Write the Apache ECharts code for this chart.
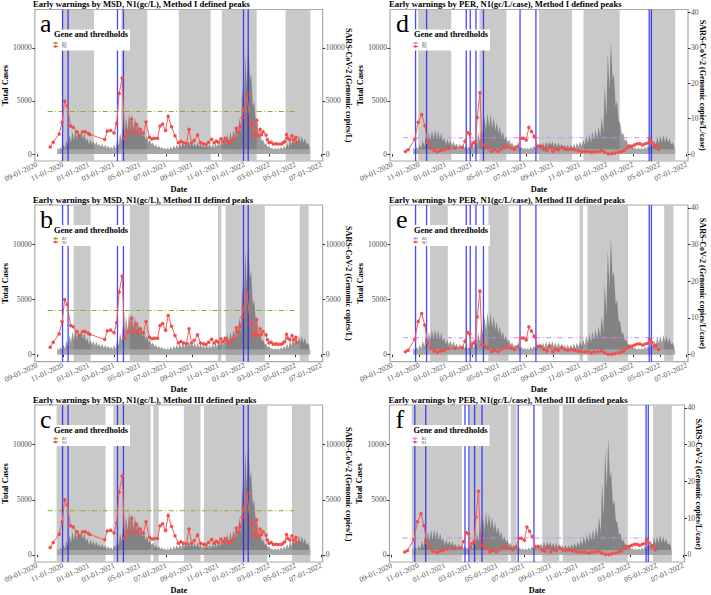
<!DOCTYPE html>
<html><head><meta charset="utf-8">
<script src="https://cdn.jsdelivr.net/npm/echarts@6/dist/echarts.min.js"></script>
<style>html,body{margin:0;padding:0;background:#fff}#c{width:711px;height:595px}</style>
</head><body><div id="c"></div>
<script>
// ---------------- DATA ----------------
const tickDates = ['2020-09-01','2020-11-01','2021-01-01','2021-03-01','2021-05-01','2021-07-01','2021-09-01','2021-11-01','2022-01-01','2022-03-01','2022-05-01','2022-07-01'];
const leftTicks = [0, 5000, 10000];
const msdTicks = [0, 5000, 10000];
const perTicks = [0, 10, 20, 30, 40];

// daily total cases, read as weekly highs (weekday) and lows (weekend), weeks starting 2020-10-19
const caseWeekStart = '2020-10-19';
const caseWeeklyHigh = [600,700,900,1300,1800,2100,2300,2300,2200,2000,1500,1400,1300,1200,1000,1000,900,800,700,900,1300,2000,2800,3500,3900,3800,3500,3000,2600,2100,1700,1400,1100,900,800,700,600,600,700,800,900,1000,1100,1200,1200,1200,1100,1100,1000,900,900,900,1000,1100,1200,1400,1700,1900,2100,2300,2600,3500,6500,9500,10700,7500,5000,3000,2000,1400,1000,800,600,600,600,700,800,1000,1300,1600,1700,1800,1700,1500,1100];
const caseWeeklyLow  = [350,400,500,700,1100,1300,1400,1500,1400,1200,900,900,800,750,650,600,550,500,450,500,800,1200,1700,2200,2500,2400,2200,1900,1600,1300,1100,900,700,550,500,450,400,400,450,500,550,600,650,700,750,700,650,650,600,550,550,550,600,650,750,850,1000,1100,1300,1400,1600,2000,3500,6000,7000,4500,3000,1800,1200,900,650,500,400,400,400,450,500,600,800,1000,1050,1100,1050,900,700];
const caseBandSpan = ['2020-10-19', '2022-06-05'];
const caseBandLevel = 450;

// N1 wastewater, MSD (gc/L)
const msdN1 = [['2020-10-02',670],['2020-10-09',1120],['2020-10-23',1880],['2020-10-30',3000],['2020-11-05',5000],['2020-11-11',4530],['2020-11-19',2640],['2020-11-25',2520],['2020-12-03',2100],['2020-12-09',1730],['2020-12-17',2100],['2020-12-23',2100],['2020-12-30',1950],['2021-01-03',1850],['2021-02-07',1370],['2021-02-13',2160],['2021-02-21',2220],['2021-03-01',1980],['2021-03-07',2890],['2021-03-13',5690],['2021-03-20',7150],['2021-03-26',1490],['2021-04-03',2100],['2021-04-11',3310],['2021-04-15',1980],['2021-04-22',2800],['2021-04-26',1980],['2021-05-02',2340],['2021-05-09',1980],['2021-05-15',3010],['2021-05-23',1580],['2021-05-29',1430],['2021-06-04',1490],['2021-06-11',1490],['2021-06-17',2640],['2021-06-23',2830],['2021-06-30',2220],['2021-07-06',3560],['2021-07-14',2580],['2021-07-22',1730],['2021-07-30',1060],['2021-08-05',1180],['2021-08-11',1060],['2021-08-18',1000],['2021-08-24',2340],['2021-08-30',1060],['2021-09-05',1270],['2021-09-13',1790],['2021-09-20',1060],['2021-09-27',970],['2021-10-03',910],['2021-10-09',1120],['2021-10-16',1400],['2021-10-22',1060],['2021-10-27',1240],['2021-11-01',1120],['2021-11-07',1430],['2021-11-12',1180],['2021-11-17',1490],['2021-11-21',1270],['2021-11-26',1060],['2021-12-01',1240],['2021-12-07',1430],['2021-12-13',2430],['2021-12-18',2040],['2021-12-22',2580],['2021-12-27',3400],['2021-12-30',4170],['2022-01-07',5620],['2022-01-15',2850],['2022-01-19',2830],['2022-01-22',1730],['2022-01-26',1920],['2022-01-30',3190],['2022-02-02',1730],['2022-02-07',2340],['2022-02-10',1820],['2022-02-14',2100],['2022-02-21',1790],['2022-02-24',1340],['2022-02-28',1060],['2022-03-05',1120],['2022-03-10',940],['2022-03-16',970],['2022-03-22',940],['2022-03-29',940],['2022-04-02',1060],['2022-04-06',1180],['2022-04-10',1850],['2022-04-13',1490],['2022-04-18',1340],['2022-04-23',1730],['2022-04-27',1340],['2022-05-02',1580],['2022-05-04',1120]];

// N1 wastewater per case, PER (gc/L/case)
const perN1 = [['2020-10-01',0.75],['2020-10-07',1.2],['2020-10-22',4.2],['2020-10-30',9.0],['2020-11-07',11.2],['2020-11-14',8.0],['2020-11-20',3.3],['2020-11-28',1.7],['2020-12-05',1.0],['2020-12-13',0.66],['2020-12-20',1.0],['2020-12-28',1.2],['2021-01-06',1.6],['2021-01-21',1.7],['2021-02-07',1.9],['2021-02-13',3.6],['2021-02-19',6.1],['2021-02-24',5.7],['2021-02-28',2.2],['2021-03-04',3.1],['2021-03-09',3.6],['2021-03-13',10.3],['2021-03-19',17.3],['2021-03-24',2.8],['2021-03-31',2.3],['2021-04-06',1.7],['2021-04-14',0.75],['2021-04-21',1.2],['2021-04-29',0.75],['2021-05-06',1.4],['2021-05-14',2.0],['2021-05-21',2.2],['2021-05-29',1.7],['2021-06-05',1.4],['2021-06-13',2.2],['2021-06-19',4.5],['2021-06-25',4.5],['2021-07-02',4.0],['2021-07-08',7.6],['2021-07-14',6.4],['2021-07-20',5.0],['2021-07-28',2.2],['2021-08-03',2.3],['2021-08-11',1.4],['2021-08-18',1.0],['2021-08-24',2.3],['2021-08-31',0.75],['2021-09-06',1.4],['2021-09-13',1.2],['2021-09-21',1.9],['2021-09-28',1.4],['2021-10-05',1.2],['2021-10-13',1.4],['2021-10-20',1.2],['2021-10-28',1.0],['2021-11-04',0.75],['2021-11-12',0.75],['2021-11-19',0.75],['2021-11-27',0.5],['2021-12-04',0.75],['2021-12-12',0.75],['2021-12-20',1.0],['2021-12-27',0.5],['2022-01-04',0.1],['2022-01-12',0.1],['2022-01-19',0.3],['2022-01-27',0.5],['2022-02-03',0.75],['2022-02-09',1.0],['2022-02-15',1.7],['2022-02-21',2.2],['2022-02-27',2.3],['2022-03-05',2.6],['2022-03-11',2.9],['2022-03-17',2.9],['2022-03-23',2.6],['2022-03-29',2.9],['2022-04-04',3.1],['2022-04-08',4.2],['2022-04-13',3.3],['2022-04-18',2.3],['2022-04-22',2.5],['2022-04-28',1.4]];

const msdThreshold = 4000;
const msdThresholdSpan = ['2020-09-26', '2022-05-04'];
const perThreshold = 4.6;
const perThresholdSpan = ['2020-09-26', '2022-04-28'];

// defined peak periods (shaded)
const methodI   = [['2020-10-30','2021-01-13'],['2021-03-18','2021-05-18'],['2021-07-31','2021-10-14'],['2021-11-09','2022-01-30'],['2022-04-08','2022-06-05']];
const methodII  = [['2020-11-26','2021-01-05'],['2021-04-07','2021-05-23'],['2021-10-31','2021-11-08'],['2021-11-18','2022-02-18'],['2022-05-11','2022-06-01']];
const methodIII = [['2020-10-17','2021-02-09'],['2021-02-27','2021-05-26'],['2021-06-01','2021-06-14'],['2021-08-12','2021-09-20'],['2021-09-28','2022-02-24'],['2022-04-23','2022-06-05']];

// early warnings (blue lines)
const msdWarnings = ['2020-10-31','2020-11-13','2021-03-09','2021-03-23','2021-12-30','2022-01-10'];
const perWarnings = ['2020-10-24','2020-11-18','2021-02-16','2021-02-25','2021-03-10','2021-03-27','2021-06-18','2021-07-24','2022-04-07','2022-04-12'];

const panelTitles = ['Early warnings by MSD, N1(gc/L), Method I defined peaks','Early warnings by MSD, N1(gc/L), Method II defined peaks','Early warnings by MSD, N1(gc/L), Method III defined peaks','Early warnings by PER, N1(gc/L/case), Method I defined peaks','Early warnings by PER, N1(gc/L/case), Method II defined peaks','Early warnings by PER, N1(gc/L/case), Method III defined peaks'];
const panelLetters = ['a','b','c','d','e','f'];
const legendTitle = 'Gene and thredholds';
const msdLegend = ['B1','N1'];
const perLegend = ['B5','N1'];
const msdRightName = 'SARS-CoV-2 (Genomic copies/L)';
const perRightName = 'SARS-CoV-2 (Genomic copies/L/case)';

// ---------------- BUILD ----------------
const SERIF = '"Liberation Serif","DejaVu Serif",serif';
const DAY = 86400000;
function t(s){ const p=s.split('-').map(Number); return new Date(p[0],p[1]-1,p[2]).getTime(); }
function fmt(v){ const d=new Date(v); const p=n=>String(n).padStart(2,'0'); return p(d.getMonth()+1)+'-'+p(d.getDate())+'-'+d.getFullYear(); }
const tickTs = tickDates.map(t);

const casesData = [];
const w0 = t(caseWeekStart);
caseWeeklyHigh.forEach((h,i)=>{ casesData.push([w0+(7*i)*DAY, h]); casesData.push([w0+(7*i+4)*DAY, caseWeeklyLow[i]]); });

const layout = [
  {left:34, top:9.5, width:288.7, height:151.5},
  {left:34, top:205, width:288.7, height:156.7},
  {left:34, top:405, width:288.7, height:158.3},
  {left:390, top:9.5, width:298, height:151.5},
  {left:390, top:205, width:298, height:156.7},
  {left:389.5, top:405, width:295, height:158.3}
];
const methods = [methodI, methodII, methodIII, methodI, methodII, methodIII];

const grids=[], xAxes=[], yAxes=[], series=[], graphics=[];
const axLabel = {fontFamily:SERIF, fontSize:7.6, color:'#4d4d4d'};
const nameStyle = {fontFamily:SERIF, fontSize:8.3, fontWeight:'bold', color:'#000'};
const numFmt = v => String(v);

for (let i=0;i<6;i++){
  const L = layout[i];
  const isPer = i>=3;
  grids.push({left:L.left, top:L.top, width:L.width, height:L.height, show:true, borderColor:'#a8a8a8', borderWidth:1.2, backgroundColor:'rgba(0,0,0,0)'});
  xAxes.push({type:'value', gridIndex:i, min:t('2020-08-27'), max:t('2022-07-04'), scale:true,
    name:'Date', nameLocation:'middle', nameGap:24, nameTextStyle:nameStyle,
    axisLine:{show:false}, splitLine:{show:false},
    axisTick:{show:true, customValues:tickTs, length:2.5, lineStyle:{color:'#333'}},
    axisLabel:Object.assign({customValues:tickTs, rotate:25, margin:3, formatter:fmt, hideOverlap:false}, axLabel)});
  yAxes.push({type:'value', gridIndex:i, position:'left', min:-650, max:13600,
    name:'Total Cases', nameLocation:'middle', nameGap:24, nameTextStyle:nameStyle,
    axisLine:{show:false}, splitLine:{show:false},
    axisTick:{show:true, customValues:leftTicks, length:2.5, lineStyle:{color:'#333'}},
    axisLabel:Object.assign({customValues:leftTicks, margin:3, formatter:numFmt}, axLabel)});
  yAxes.push({type:'value', gridIndex:i, position:'right',
    min: isPer? -1.95 : -650, max: isPer? 40.8 : 13600,
    axisLine:{show:false}, splitLine:{show:false},
    axisTick:{show:true, customValues: isPer? perTicks : msdTicks, length:2.5, lineStyle:{color:'#333'}},
    axisLabel:Object.assign({customValues: isPer? perTicks : msdTicks, margin:3, formatter:numFmt}, axLabel)});

  // shaded peaks
  series.push({type:'custom', xAxisIndex:i, yAxisIndex:2*i, z:1, silent:true, clip:true,
    data: methods[i].map(r=>[t(r[0]), t(r[1])]), encode:{x:[0,1]},
    renderItem:(params, api)=>{ const cs=params.coordSys; const x0=api.coord([api.value(0),0])[0]; const x1=api.coord([api.value(1),0])[0];
      const a=Math.max(x0,cs.x), b=Math.min(x1,cs.x+cs.width);
      return {type:'rect', shape:{x:a, y:cs.y, width:Math.max(0,b-a), height:cs.height}, style:{fill:'#c9c9c9'}}; }});
  // total cases
  series.push({type:'line', xAxisIndex:i, yAxisIndex:2*i, z:2, silent:true, data:casesData, symbol:'none',
    lineStyle:{width:0}, areaStyle:{color:'rgba(85,85,85,0.6)', opacity:1}});
  // light band at the base of cases
  series.push({type:'custom', xAxisIndex:i, yAxisIndex:2*i, z:3, silent:true,
    data:[[t(caseBandSpan[0]), t(caseBandSpan[1]), caseBandLevel]], encode:{x:[0,1], y:2},
    renderItem:(params, api)=>{ const p0=api.coord([api.value(0),0]); const p1=api.coord([api.value(1),api.value(2)]);
      return {type:'rect', shape:{x:p0[0], y:p1[1], width:p1[0]-p0[0], height:p0[1]-p1[1]}, style:{fill:'rgba(170,170,170,0.85)'}}; }});
  // threshold
  const thr = isPer? perThreshold : msdThreshold;
  const span = isPer? perThresholdSpan : msdThresholdSpan;
  series.push({type:'line', xAxisIndex:i, yAxisIndex:2*i+1, z:4, silent:true, symbol:'none',
    data:[[t(span[0]), thr],[t(span[1]), thr]],
    lineStyle:{color: isPer? '#c98bff' : '#86b01e', width:1.1, type:[5,2.5,1,2.5]}});
  // warnings
  series.push({type:'custom', xAxisIndex:i, yAxisIndex:2*i, z:5, silent:true,
    data:(isPer? perWarnings : msdWarnings).map(d=>[t(d)]), encode:{x:0},
    renderItem:(params, api)=>{ const cs=params.coordSys; const x=api.coord([api.value(0),0])[0];
      return {type:'line', shape:{x1:x, y1:cs.y, x2:x, y2:cs.y+cs.height}, style:{stroke:'rgba(25,25,255,0.8)', lineWidth:1.3}}; }});
  // N1
  series.push({type:'line', xAxisIndex:i, yAxisIndex:2*i+1, z:6, silent:true,
    data:(isPer? perN1 : msdN1).map(p=>[t(p[0]), p[1]]),
    symbol:'circle', symbolSize:3.5, lineStyle:{color:'#f65b5b', width:1}, itemStyle:{color:'#f24e4e'}});

  const Z = 100;
  // title
  graphics.push({type:'text', x:L.left-1, y:L.top-5.5, z:Z, style:{text:panelTitles[i], font:'bold 8.6px '+SERIF, fill:'#000', textVerticalAlign:'middle'}});
  // right axis name
  graphics.push({type:'text', x:L.left+L.width+(isPer?14:25.5), y:L.top+L.height/2, rotation:-Math.PI/2, z:Z,
    style:{text: isPer? perRightName : msdRightName, font:'bold 8.1px '+SERIF, fill:'#000', textAlign:'center', textVerticalAlign:'middle'}});
  // letter
  graphics.push({type:'text', x:L.left+6, y:L.top+1, z:Z, style:{text:panelLetters[i], font:'26px '+SERIF, fill:'#000', textVerticalAlign:'top'}});
  // legend
  const bx = L.left + (isPer? 20 : 16), by = L.top + 20;
  const lg = isPer? perLegend : msdLegend;
  const c1 = isPer? '#c98bff' : '#86b01e';
  graphics.push({type:'rect', z:Z, shape:{x:bx, y:by, width:80, height:21}, style:{fill:'#fff'}});
  graphics.push({type:'text', z:Z+1, x:bx+4, y:by+5, style:{text:legendTitle, font:'bold 8.3px '+SERIF, fill:'#000', textVerticalAlign:'middle'}});
  graphics.push({type:'line', z:Z+1, shape:{x1:bx+3, y1:by+13.5, x2:bx+8, y2:by+13.5}, style:{stroke:c1, lineWidth:1}});
  graphics.push({type:'circle', z:Z+1, shape:{cx:bx+5.5, cy:by+13.5, r:1.3}, style:{fill:c1}});
  graphics.push({type:'text', z:Z+1, x:bx+12, y:by+13.5, style:{text:lg[0], font:'4px '+SERIF, fill:'#333', textVerticalAlign:'middle'}});
  graphics.push({type:'line', z:Z+1, shape:{x1:bx+3, y1:by+17, x2:bx+8, y2:by+17}, style:{stroke:'#f24e4e', lineWidth:1}});
  graphics.push({type:'circle', z:Z+1, shape:{cx:bx+5.5, cy:by+17, r:1.3}, style:{fill:'#f24e4e'}});
  graphics.push({type:'text', z:Z+1, x:bx+12, y:by+17, style:{text:lg[1], font:'4px '+SERIF, fill:'#333', textVerticalAlign:'middle'}});
}

const chart = echarts.init(document.getElementById('c'), null, {renderer:'svg'});
chart.setOption({animation:false, backgroundColor:'#fff', grid:grids, xAxis:xAxes, yAxis:yAxes, series:series, graphic:graphics});
</script>
</body></html>
